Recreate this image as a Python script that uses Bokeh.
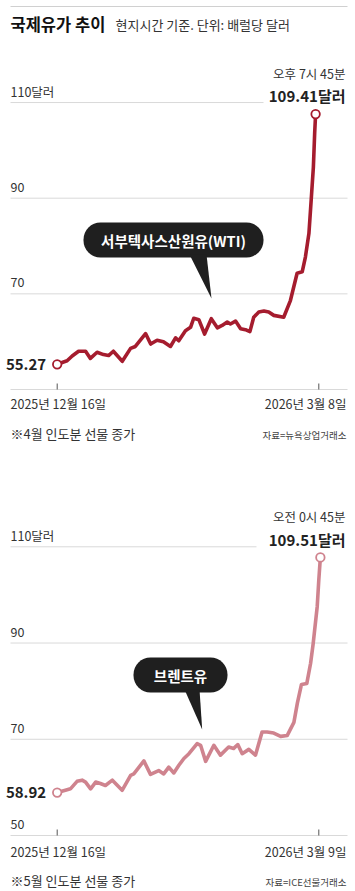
from bokeh.plotting import figure
from bokeh.models import Range1d, Label
from bokeh.embed import file_html
from bokeh.resources import INLINE

W, H = 355, 891
FONT = "Noto Sans CJK KR"

# ---------------- data ----------------
# days since 2025-12-16
wti_day = [0, 3.1, 4.7, 6.7, 8.9, 10.4, 12.5, 14.5, 16.1, 17.6, 20.4, 23.0, 24.5, 27.7, 29.3,
           31.3, 33.3, 35.5, 37.1, 38.1, 40.2, 41.8, 42.8, 44.4, 46.2, 48.3, 50.2, 51.7, 53.3,
           54.3, 55.9, 57.5, 59.0, 60.4, 61.6, 63.2, 64.8, 66.3, 67.9, 71.0, 73.1, 75.2, 76.8,
           77.8, 78.9, 79.6, 80.3, 80.7, 81.0]
wti_val = [55.27, 56.0, 57.0, 58.0, 58.0, 56.5, 57.8, 57.3, 57.1, 58.0, 55.9, 58.6, 59.0, 61.7, 59.5,
           60.3, 60.0, 59.0, 60.8, 60.2, 62.3, 63.0, 64.9, 64.6, 61.6, 64.8, 62.9, 63.4, 64.1,
           63.7, 64.3, 62.7, 62.5, 62.1, 65.1, 66.2, 66.4, 66.2, 65.5, 65.1, 68.6, 74.3, 74.6,
           77.7, 82.6, 89.5, 96.5, 103.5, 107.6]

br_day = [0, 2.6, 4.2, 6.3, 7.9, 9.0, 10.6, 12.2, 13.7, 15.3, 17.5, 20.6, 23.3, 24.3, 27.5,
          29.6, 32.2, 33.8, 35.4, 37.0, 38.6, 40.2, 41.8, 44.4, 45.5, 47.1, 49.7, 51.8, 54.4,
          56.0, 57.3, 58.7, 60.8, 62.9, 65.0, 66.6, 68.7, 70.9, 73.0, 75.1, 76.2, 77.5, 79.2,
          80.4, 81.2, 82.5, 83.0, 83.5]
br_val = [58.92, 59.4, 59.7, 61.25, 61.5, 61.1, 59.7, 61.1, 60.8, 60.4, 61.5, 59.4, 62.5, 62.8, 65.5,
          62.7, 63.5, 62.8, 64.2, 63.0, 64.6, 66.0, 67.0, 69.1, 68.75, 65.4, 68.75, 66.7, 68.4,
          68.1, 68.9, 67.0, 67.9, 66.7, 71.5, 71.5, 71.3, 70.6, 70.8, 73.5, 77.5, 81.4, 81.6,
          85.8, 89.8, 97.6, 103.1, 107.8]

wti_grid = [110, 90, 70, 50]
wti_grid_labels = ["110달러", "90", "70", ""]
br_grid = [110, 90, 70, 50]
br_grid_labels = ["110달러", "90", "70", "50"]

wti_ticks = [0, 82]
wti_tick_labels = ["2025년 12월 16일", "2026년 3월 8일"]
br_ticks = [0, 83]
br_tick_labels = ["2025년 12월 16일", "2026년 3월 9일"]

wti_start_label = "55.27"
wti_end_time = "오후 7시 45분"
wti_end_label = "109.41달러"
br_start_label = "58.92"
br_end_time = "오전 0시 45분"
br_end_label = "109.51달러"

title_text = "국제유가 추이"
subtitle_text = "현지시간 기준. 단위: 배럴당 달러"
wti_name = "서부텍사스산원유(WTI)"
br_name = "브렌트유"
wti_note = "※4월 인도분 선물 종가"
wti_src = "자료=뉴욕상업거래소"
br_note = "※5월 인도분 선물 종가"
br_src = "자료=ICE선물거래소"

# ---------------- layout constants (pixels) ----------------
X0_PX, X1_PX = 56.7, 318.3
K1 = (X1_PX - X0_PX) / wti_ticks[1]
K2 = (X1_PX - X0_PX) / br_ticks[1]
WTI_BASE_PY, WTI_PPU = 389.0, 4.7825
BR_BASE_PY, BR_PPU = 835.0, 4.8117

WTI_COLOR = "#a51c2e"
BR_COLOR = "#cf838e"
GRID_COLOR = "#d9d9d9"


def wx(px):
    return (px - X0_PX) / K1


def wy(py):
    return 50 + (WTI_BASE_PY - py) / WTI_PPU


def bx(px):
    return (px - X0_PX) / K2


def by(py):
    return 50 + (BR_BASE_PY - py) / BR_PPU


def sy(py):
    return H - py


p = figure(width=W, height=H, output_backend="svg", toolbar_location=None,
           x_range=Range1d(wx(0), wx(W)), y_range=Range1d(wy(H), wy(0)),
           x_axis_location=None, y_axis_location=None,
           min_border=0, min_border_left=0, min_border_right=0,
           min_border_top=0, min_border_bottom=0)
p.extra_x_ranges = {"br": Range1d(bx(0), bx(W))}
p.extra_y_ranges = {"br": Range1d(by(H), by(0))}
p.grid.visible = False
p.outline_line_color = None
p.background_fill_color = "white"
p.border_fill_color = "white"

# top rule
p.segment(x0=[wx(10)], y0=[wy(6)], x1=[wx(347)], y1=[wy(6)], line_color="#d0d0d0", line_width=1)


def txt(text, x, y, size, align="left", bold=False, color="#333333", **kw):
    lab = Label(x=x, y=y, x_units="screen", y_units="screen", text=text,
                text_font=FONT, text_font_size=f"{size}px", text_align=align,
                text_baseline="middle", text_color=color,
                text_font_style="bold" if bold else "normal", **kw)
    p.add_layout(lab)
    return lab


# titles
txt(title_text, 10, sy(23), 16.5, bold=True, color="#111111")
txt(subtitle_text, 115, sy(24), 13, color="#333333")


def panel(days, vals, grid, grid_labels, ticks, tick_labels, color, fx, fy, short_px,
          start_label, end_time, end_label, end_time_py, end_label_py,
          tick_label_py, note, src, note_py, name, bubble, pointer, name_center, rng):
    extra = {} if rng is None else {"x_range_name": rng, "y_range_name": rng}
    # grid lines
    x1s = [fx(short_px) if g == max(grid) else fx(347) for g in grid]
    p.segment(x0=[fx(10)] * len(grid), y0=grid, x1=x1s, y1=grid,
              line_color=GRID_COLOR, line_width=1, **extra)
    for g, gl in zip(grid, grid_labels):
        if gl:
            lab = Label(x=10, x_units="screen", y=g, y_units="data", y_offset=11.5,
                        text=gl, text_font=FONT, text_font_size="12.5px",
                        text_baseline="middle", text_color="#333333")
            if rng:
                lab.y_range_name = rng
            p.add_layout(lab)
    # ticks (pointing up from the baseline)
    tick_top = fy(BR_BASE_PY - 6) if rng else fy(WTI_BASE_PY - 6)
    p.segment(x0=ticks, y0=[50] * len(ticks), x1=ticks, y1=[tick_top] * len(ticks),
              line_color="#555555", line_width=1, **extra)
    # bubble
    (l, r, t, b) = bubble
    p.quad(left=[fx(l)], right=[fx(r)], top=[fy(t)], bottom=[fy(b)],
           fill_color="#1f1f1f", line_color=None, border_radius=17, **extra)
    p.patch(x=[fx(px) for px, _ in pointer], y=[fy(py) for _, py in pointer],
            fill_color="#1f1f1f", line_color=None, **extra)
    txt(name, name_center[0], sy(name_center[1]), 14.5, align="center", bold=True,
        color="white")
    # line
    p.line(days, vals, line_color=color, line_width=3.6, line_join="round",
           line_cap="round", **extra)
    p.scatter([days[0], days[-1]], [vals[0], vals[-1]], size=8.5, fill_color="white",
              line_color=color, line_width=1.8, **extra)
    # start value label
    lab = Label(x=days[0], y=vals[0], x_offset=-11, text=start_label, text_font=FONT,
                text_font_size="15px", text_font_style="bold", text_align="right",
                text_baseline="middle", text_color="#222222")
    if rng:
        lab.x_range_name = rng
        lab.y_range_name = rng
    p.add_layout(lab)
    # end labels
    txt(end_time, 345, sy(end_time_py), 12.5, align="right", color="#333333")
    txt(end_label, 345, sy(end_label_py), 15, align="right", bold=True, color="#222222")
    # tick labels
    txt(tick_labels[0], 10, sy(tick_label_py), 12.5, align="left", color="#333333")
    txt(tick_labels[1], 346, sy(tick_label_py), 12.5, align="right", color="#333333")
    # notes
    txt(note, 10, sy(note_py), 13, align="left", color="#333333")
    txt(src, 346, sy(note_py + 1), 9.5, align="right", color="#444444")


panel(wti_day, wti_val, wti_grid, wti_grid_labels, wti_ticks, wti_tick_labels, WTI_COLOR,
      wx, wy, 263, wti_start_label, wti_end_time, wti_end_label, 73, 95, 403,
      wti_note, wti_src, 433, wti_name, (83, 263, 222, 257),
      [(189, 254), (206, 254), (211, 298)], (173, 239.5), None)

panel(br_day, br_val, br_grid, br_grid_labels, br_ticks, br_tick_labels, BR_COLOR,
      bx, by, 256, br_start_label, br_end_time, br_end_label, 516, 539, 850.5,
      br_note, br_src, 880, br_name, (133, 227, 657, 692),
      [(184, 689), (199, 689), (201.7, 729)], (180, 674.5), "br")

open("out.html", "w").write(file_html(p, INLINE))
